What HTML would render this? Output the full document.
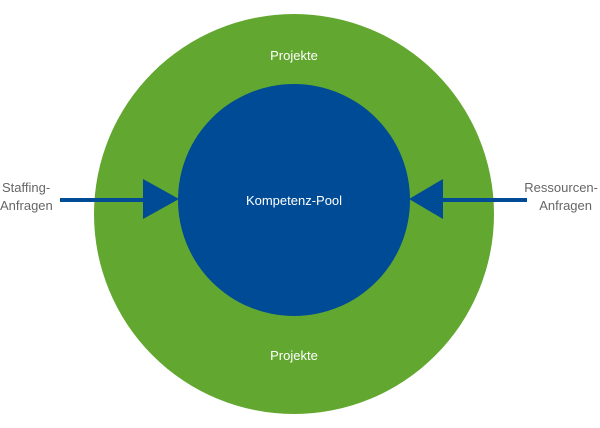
<!DOCTYPE html>
<html><head><style>
body{margin:0;background:#fff;}
svg{display:block;}
text{font-family:"Liberation Sans",sans-serif;}
</style></head><body>
<svg width="600" height="428" viewBox="0 0 600 428">
<circle cx="294" cy="214" r="200" fill="#62a72f"/>
<circle cx="294" cy="200" r="116" fill="#004b96"/>
<text x="294" y="60" fill="#fff" font-size="13" text-anchor="middle">Projekte</text>
<text x="294" y="360" fill="#fff" font-size="13" text-anchor="middle">Projekte</text>
<text x="294" y="205" fill="#fff" font-size="13" text-anchor="middle">Kompetenz-Pool</text>
<rect x="60" y="198" width="86" height="4" fill="#004b96"/>
<polygon points="143,179 143,219 179,199" fill="#004b96"/>
<rect x="442" y="198" width="85" height="4" fill="#004b96"/>
<polygon points="443,179 443,219 409,199" fill="#004b96"/>
<g fill="#666" font-size="13">
<text x="2" y="192">Staffing-</text>
<text x="0" y="210">Anfragen</text>
<text x="598" y="192" text-anchor="end">Ressourcen-</text>
<text x="592" y="210" text-anchor="end">Anfragen</text>
</g>
</svg>
</body></html>
